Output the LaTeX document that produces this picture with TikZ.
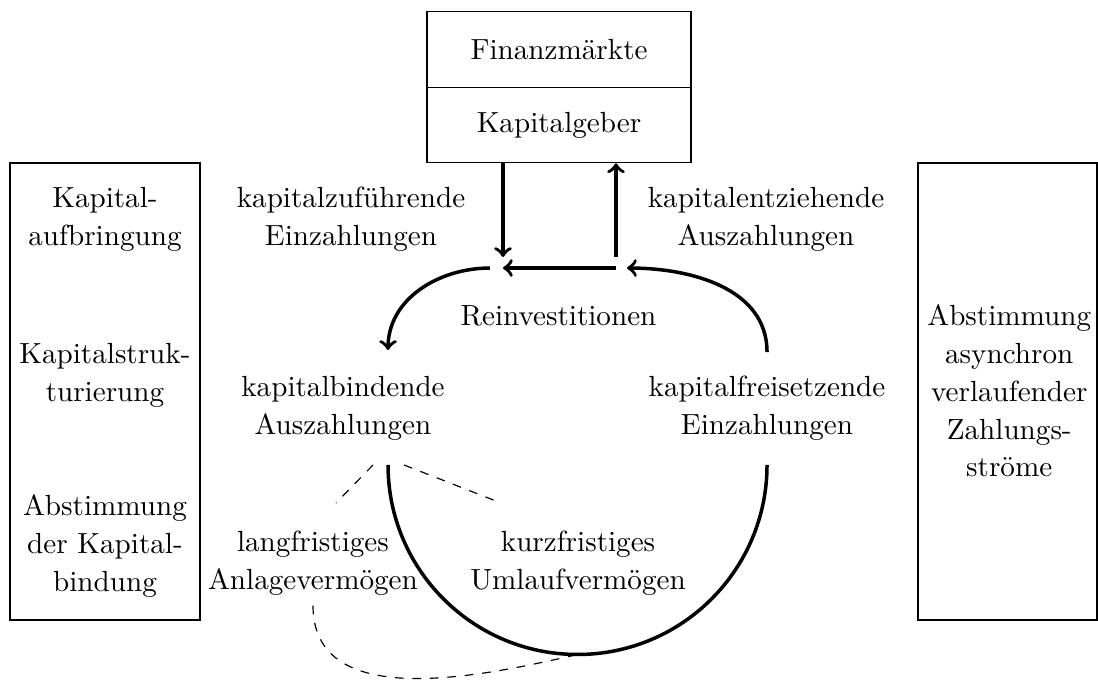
\documentclass[tikz,border=0pt]{standalone}
\usepackage{tikz}
\usetikzlibrary{calc}
\begin{document}
\begin{tikzpicture}[
    txt/.style={align=center, font=\fontsize{10}{13}\selectfont},
    fluss/.style={line width=1.2pt, ->},
    kasten/.style={draw, minimum width=3.183cm, minimum height=0.91cm}]
\useasboundingbox (0,0) rectangle (13.24,-8.188);
\node[kasten, txt] (fm) at (6.741,-0.597) {Finanzmärkte};
\node[kasten, txt] (kg) at (6.741,-1.507) {Kapitalgeber};
\node[draw, minimum width=2.291cm, minimum height=5.51cm] (links)  at (1.266,-4.721) {};
\node[draw, minimum width=2.158cm, minimum height=5.51cm] (rechts) at (12.149,-4.721) {};
\node[txt] (aufb)  at (1.266,-2.641) {Kapital-\\aufbringung};
\node[txt] (struk) at (1.266,-4.522) {Kapitalstruk-\\turierung};
\node[txt] (bind)  at (1.266,-6.584) {Abstimmung\\der Kapital-\\bindung};
\node[txt] (async) at (12.17,-4.714) {Abstimmung\\asynchron\\verlaufender\\Zahlungs-\\ströme};
\node[txt] (zuf)   at (4.233,-2.641) {kapitalzuführende\\Einzahlungen};
\node[txt] (entz)  at (9.237,-2.641) {kapitalentziehende\\Auszahlungen};
\node[txt] (reinv) at (6.735,-3.810) {Reinvestitionen};
\node[txt] (kbind) at (4.136,-4.920) {kapitalbindende\\Auszahlungen};
\node[txt] (kfrei) at (9.249,-4.920) {kapitalfreisetzende\\Einzahlungen};
\node[txt] (anl)   at (3.774,-6.789) {langfristiges\\Anlagevermögen};
\node[txt] (uml)   at (6.970,-6.789) {kurzfristiges\\Umlaufvermögen};
\coordinate (ein) at (6.065,-3.232);
\coordinate (aus) at (7.428,-3.232);
\coordinate (li)  at (4.679,-4.220);
\coordinate (re)  at (9.249,-4.245);
\coordinate (ul)  at (4.679,-5.607);
\coordinate (ub)  at (6.964,-7.892);
\coordinate (g1a) at (4.498,-5.607);
\coordinate (g1b) at (4.052,-6.065);
\coordinate (g2a) at (4.872,-5.607);
\coordinate (g2b) at (6.041,-6.065);
\draw[fluss] (kg.south -| ein) -- ([yshift=0.133cm]ein);
\draw[fluss] ([yshift=0.133cm]aus) -- (kg.south -| aus);
\draw[fluss] (aus) -- (ein);
\draw[fluss] ([xshift=-0.157cm]ein) to[out=180,in=90] (li);
\draw[fluss] (re) to[out=90,in=0] ([xshift=0.133cm]aus);
\draw[line width=1.2pt] (ul) arc[start angle=180, end angle=360, radius=2.285cm];
\draw[dashed] (g1a) -- (g1b);
\draw[dashed] (g2a) -- (g2b);
\draw[dashed] (anl.south) to[out=-90,in=193] (ub);
\end{tikzpicture}
\end{document}
